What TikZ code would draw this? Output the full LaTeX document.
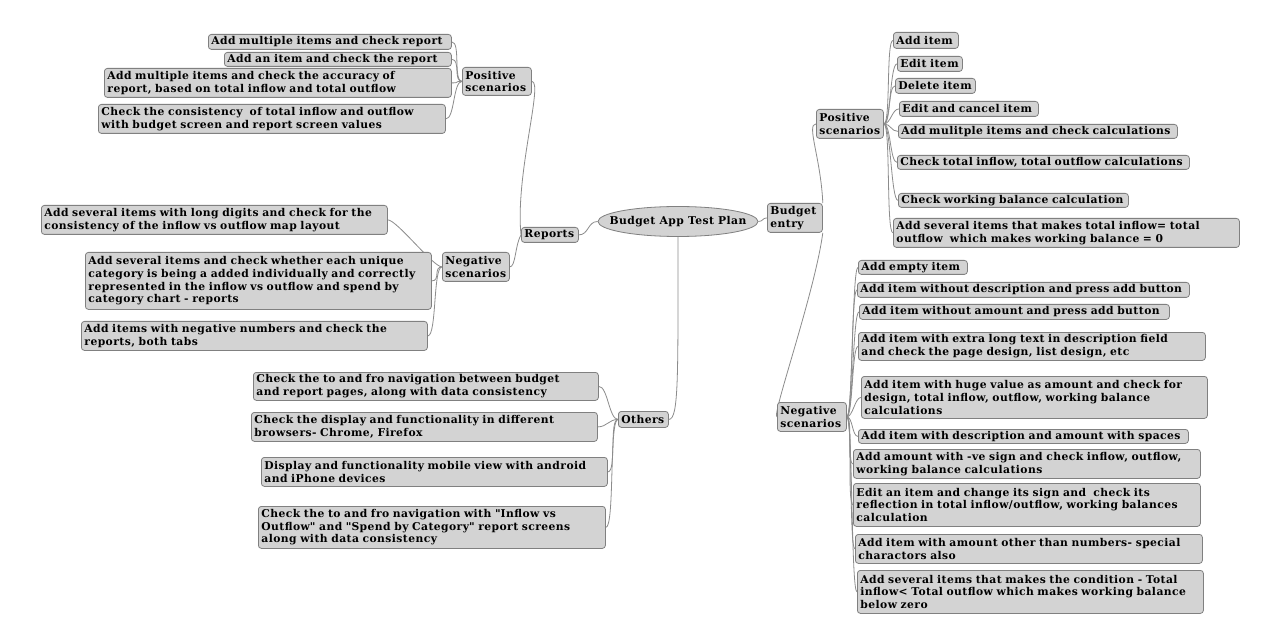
\documentclass[tikz,border=0pt]{standalone}
\usepackage{fontspec}
\setmainfont{DejaVu Serif}[LetterSpace=4]
\usetikzlibrary{shapes.geometric,backgrounds}
\definecolor{boxfill}{RGB}{211,211,211}
\definecolor{boxline}{RGB}{128,128,128}
\definecolor{linkgray}{RGB}{140,140,140}
\begin{document}
\begin{tikzpicture}[x=1bp,y=-1bp,
  box/.style={draw=boxline, fill=boxfill, rounded corners=3bp, anchor=north west,
    align=left, inner xsep=3bp, inner ysep=0.5bp, line width=0.8bp,
    font=\fontsize{10.8}{12.7}\selectfont\bfseries},
  rootnode/.style={ellipse, draw=boxline, fill=boxfill, line width=0.8bp, inner sep=0pt,
    minimum width=160bp, minimum height=30bp, font=\fontsize{10.8}{12.7}\selectfont\bfseries},
  mmlink/.style={draw=linkgray, line width=0.8bp}]
\useasboundingbox (0,0) rectangle (1280,638);
% root and main branches
\node[rootnode] (root) at (678,221.5) {\makebox[0pt]{Budget App Test Plan}};
\node[box, text width=49bp, minimum height=29bp] (budget) at (767,203) {Budget\\entry};
\node[box, text width=51bp, minimum height=15bp] (reports) at (521,227) {Reports};
\node[box, text width=44bp, minimum height=16bp] (others) at (618,411) {Others};
% second level
\node[box, text width=63bp, minimum height=28bp] (rpos) at (462,67) {Positive\\scenarios};
\node[box, text width=61bp, minimum height=29bp] (rneg) at (442,252) {Negative\\scenarios};
\node[box, text width=61bp, minimum height=29bp] (bpos) at (816,109) {Positive\\scenarios};
\node[box, text width=63bp, minimum height=29bp] (bneg) at (777,402) {Negative\\scenarios};
% reports positive
\node[box, text width=237bp, minimum height=15bp] (p1) at (208,34) {Add multiple items and check report};
\node[box, text width=221bp, minimum height=14bp] (p2) at (224,52) {Add an item and check the report};
\node[box, text width=341bp, minimum height=29bp] (p3) at (104,68) {Add multiple items and check the accuracy of\\report, based on total inflow and total outflow};
\node[box, text width=341bp, minimum height=29bp] (p4) at (98,104) {Check the consistency\ \ of total inflow and outflow\\with budget screen and report screen values};
% reports negative
\node[box, text width=340bp, minimum height=29bp] (n1) at (41,205) {Add several items with long digits and check for the\\consistency of the inflow vs outflow map layout};
\node[box, text width=340bp, minimum height=57bp] (n2) at (85,252) {Add several items and check whether each unique\\category is being a added individually and correctly\\represented in the inflow vs outflow and spend by\\category chart - reports};
\node[box, text width=340bp, minimum height=29bp] (n3) at (81,321) {Add items with negative numbers and check the\\reports, both tabs};
% others
\node[box, text width=339bp, minimum height=28bp] (o1) at (253,372) {Check the to and fro navigation between budget\\and report pages, along with data consistency};
\node[box, text width=340bp, minimum height=29bp] (o2) at (251,412) {Check the display and functionality in different\\browsers- Chrome, Firefox};
\node[box, text width=340bp, minimum height=29bp] (o3) at (261,457) {Display and functionality mobile view with android\\and iPhone devices};
\node[box, text width=341bp, minimum height=42bp] (o4) at (258,506) {Check the to and fro navigation with \textquotedbl{}Inflow vs\\Outflow\textquotedbl{} and \textquotedbl{}Spend by Category\textquotedbl{} report screens\\along with data consistency};
% budget positive
\node[box, text width=59bp, minimum height=16bp] (b1) at (893,32) {Add item};
\node[box, text width=59bp, minimum height=15bp] (b2) at (897,56) {Edit item};
\node[box, text width=74bp, minimum height=15bp] (b3) at (895,78) {Delete item};
\node[box, text width=133bp, minimum height=15bp] (b4) at (899,101) {Edit and cancel item};
\node[box, text width=273bp, minimum height=14bp] (b5) at (898,124) {Add mulitple items and check calculations};
\node[box, text width=286bp, minimum height=14bp] (b6) at (897,155) {Check total inflow, total outflow calculations};
\node[box, text width=224bp, minimum height=14bp] (b7) at (898,193) {Check working balance calculation};
\node[box, text width=340bp, minimum height=29bp] (b8) at (893,218) {Add several items that makes total inflow= total\\outflow\ \ which makes working balance = 0};
% budget negative
\node[box, text width=103bp, minimum height=14bp] (c1) at (858,260) {Add empty item};
\node[box, text width=326bp, minimum height=15bp] (c2) at (857,282) {Add item without description and press add button};
\node[box, text width=304bp, minimum height=15bp] (c3) at (859,304) {Add item without amount and press add button};
\node[box, text width=341bp, minimum height=28bp] (c4) at (858,332) {Add item with extra long text in description field\\and check the page design, list design, etc};
\node[box, text width=340bp, minimum height=42bp] (c5) at (861,376) {Add item with huge value as amount and check for\\design, total inflow, outflow, working balance\\calculations};
\node[box, text width=324bp, minimum height=14bp] (c6) at (858,429) {Add item with description and amount with spaces};
\node[box, text width=341bp, minimum height=29bp] (c7) at (853,449) {Add amount with -ve sign and check inflow, outflow,\\working balance calculations};
\node[box, text width=341bp, minimum height=43bp] (c8) at (853,483) {Edit an item and change its sign and\ \ check its\\reflection in total inflow/outflow, working balances\\calculation};
\node[box, text width=341bp, minimum height=29bp] (c9) at (855,534) {Add item with amount other than numbers- special\\charactors also};
\node[box, text width=340bp, minimum height=43bp] (c10) at (857,570) {Add several items that makes the condition - Total\\inflow< Total outflow which makes working balance\\below zero};
% connectors
\begin{scope}[on background layer]
\fill[white] (0,0) rectangle (1280,638);
\draw[mmlink] (root.west) .. controls +(-10,0) and +(10,0) .. (reports.east);
\draw[mmlink] (root.east) .. controls +(5,0) and +(-5,0) .. (budget.west);
\draw[mmlink] (root.south) .. controls +(0,140) and +(10,0) .. (others.east);
\draw[mmlink] (budget.north east) .. controls +(-2,-45) and +(-10,0) .. (bpos.west);
\draw[mmlink] (budget.south east) .. controls +(-8,60) and +(-6,0) .. (bneg.west);
\draw[mmlink] (reports.west) .. controls +(-6,-60) and +(12,0) .. (rpos.east);
\draw[mmlink] (reports.west) .. controls +(-6,10) and +(6,0) .. (rneg.east);
\foreach \c in {p1,p2,p3,p4}
  \draw[mmlink] (rpos.west) .. controls +(-9,0) and +(9,0) .. (\c.east);
\foreach \c in {n1,n2,n3}
  \draw[mmlink] (rneg.west) .. controls +(-9,0) and +(9,0) .. (\c.east);
\foreach \c in {o1,o2,o3,o4}
  \draw[mmlink] (others.west) .. controls +(-9,0) and +(9,0) .. (\c.east);
\foreach \c in {b1,b2,b3,b4,b5,b6,b7,b8}
  \draw[mmlink] (bpos.east) .. controls +(7,0) and +(-7,0) .. (\c.west);
\foreach \c in {c1,c2,c3,c4,c5,c6,c7,c8,c9,c10}
  \draw[mmlink] (bneg.east) .. controls +(6,0) and +(-6,0) .. (\c.west);
\end{scope}
\end{tikzpicture}
\end{document}
